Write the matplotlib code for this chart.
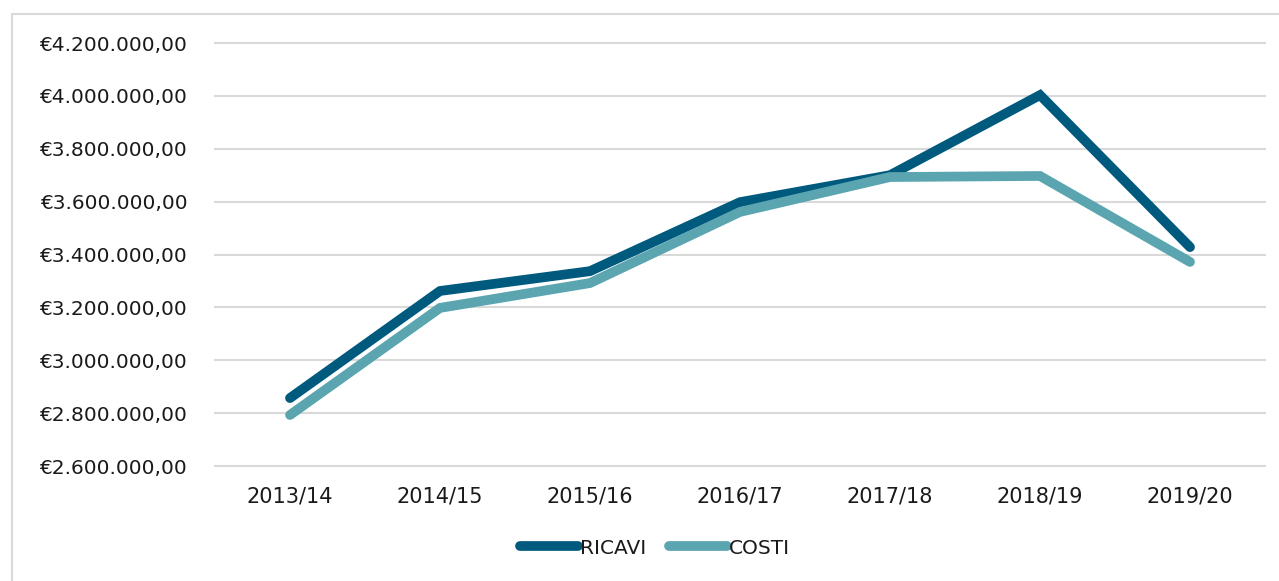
import matplotlib
matplotlib.use("Agg")
import matplotlib.pyplot as plt
from matplotlib.patches import Rectangle
from matplotlib.ticker import FuncFormatter
from matplotlib.lines import Line2D

categories = ["2013/14", "2014/15", "2015/16", "2016/17", "2017/18", "2018/19", "2019/20"]
ricavi = [2857000, 3262000, 3337000, 3598000, 3700000, 4003000, 3428000]
costi = [2793000, 3198000, 3292000, 3561000, 3693000, 3697000, 3372000]
yticks = [2600000, 2800000, 3000000, 3200000, 3400000, 3600000, 3800000, 4000000, 4200000]

W, H = 1279, 581
fig = plt.figure(figsize=(W / 100, H / 100), dpi=100)
plt.rcParams['font.family'] = ['DejaVu Sans']

# outer chart border
fig.patches.append(Rectangle((12 / W, -0.1), 1.2, 1 - 14 / H + 0.1, transform=fig.transFigure,
                             fill=False, edgecolor="#d9d9d9", linewidth=1.5))

left, right, top, bottom = 215, 1265, 43, 466
ax = fig.add_axes([left / W, 1 - bottom / H, (right - left) / W, (bottom - top) / H])
x = range(len(categories))
c_ric = "#005a7e"
c_cos = "#5ba5b0"
lw = 7
ax.plot(x, ricavi, color=c_ric, lw=lw, solid_capstyle="round", solid_joinstyle="miter", zorder=3)
ax.plot(x, costi, color=c_cos, lw=lw, solid_capstyle="round", solid_joinstyle="miter", zorder=3)

ax.set_xlim(-0.5, len(categories) - 0.5)
ax.set_ylim(2600000, 4200000)
ax.set_yticks(yticks)

def fmt(v, pos):
    s = f"{int(v):,}".replace(",", ".")
    return f"€{s},00"

ax.yaxis.set_major_formatter(FuncFormatter(fmt))
ax.set_xticks(list(x))
ax.set_xticklabels(categories)
ax.tick_params(axis="both", length=0, colors="#1a1a1a")
ax.tick_params(axis="y", pad=20, labelsize=14.5)
ax.tick_params(axis="x", pad=15, labelsize=15)
for s in ax.spines.values():
    s.set_visible(False)
ax.grid(axis="y", color="#d9d9d9", linewidth=1.5)
for gl in ax.get_ygridlines():
    gl.set_clip_on(False)
ax.set_axisbelow(True)

handles = [Line2D([], [], color=c_ric, lw=lw, solid_capstyle="round"),
           Line2D([], [], color=c_cos, lw=lw, solid_capstyle="round")]
fig.legend(handles, ["RICAVI", "COSTI"], loc="center", bbox_to_anchor=(655 / W, 1 - 548 / H),
           ncol=2, frameon=False, fontsize=14.5, handlelength=2.9, handletextpad=0.1,
           columnspacing=1.1, labelcolor="#1a1a1a")

fig.savefig("out.png", dpi=100)
